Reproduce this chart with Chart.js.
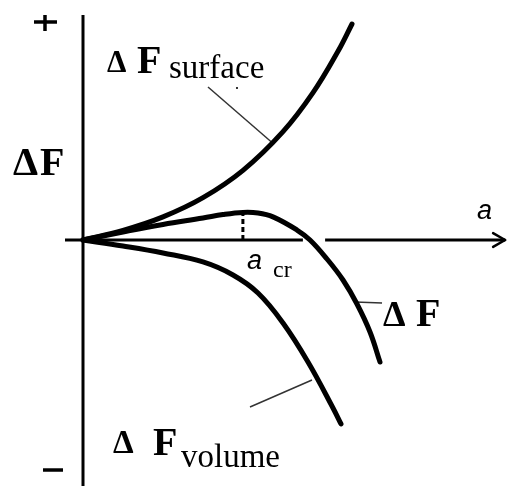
<!DOCTYPE html>
<html>
<head>
<meta charset="utf-8">
<script src="https://cdn.jsdelivr.net/npm/chart.js@4/dist/chart.umd.min.js"></script>
<style>
  body { margin: 0; background: #fff; }
  canvas { display: block; }
</style>
</head>
<body>
<canvas id="chart" width="508" height="486"></canvas>
<script>
// curve samples, a (size) vs ΔF
const surfaceA = [0, 1.333, 2.667, 4.0, 5.333, 6.667, 7.667, 8.5, 8.967];
const surfaceF = [0, 0.32, 0.77, 1.41, 2.32, 3.61, 4.91, 6.29, 7.2];

const totalA = [0, 1.333, 2.667, 4.0, 4.667, 5.333, 5.833, 6.333, 7.133, 7.567, 8.133, 8.667, 9.133, 9.567, 9.9];
const totalF = [0, 0.267, 0.517, 0.733, 0.85, 0.92, 0.9, 0.77, 0.333, 0, -0.633, -1.333, -2.133, -3.067, -4.067];

const volumeA = [0, 1.333, 2.667, 4.0, 5.0, 5.833, 6.667, 7.5, 8.333, 8.6];
const volumeF = [0, -0.2, -0.433, -0.733, -1.167, -1.767, -2.767, -4.067, -5.6, -6.133];

const aCritical = 5.33;
const peakF = 0.93;

const toPoints = (xs, ys) => xs.map((x, i) => ({ x: x, y: ys[i] }));

const curveStyle = {
    showLine: true,
    borderColor: '#000',
    borderWidth: 5,
    pointRadius: 0,
    tension: 0.4,
    borderCapStyle: 'round',
    borderJoinStyle: 'round',
    fill: false,
};

const sketchPlugin = {
    id: 'sketch',
    beforeDatasetsDraw(chart) {
        const ctx = chart.ctx;
        const xs = chart.scales.x, ys = chart.scales.y;
        const X = (v) => xs.getPixelForValue(v);
        const Y = (v) => ys.getPixelForValue(v);
        const line = (a1, f1, a2, f2, w) => {
            ctx.beginPath();
            ctx.moveTo(X(a1), Y(f1));
            ctx.lineTo(X(a2), Y(f2));
            ctx.lineWidth = w;
            ctx.stroke();
        };
        ctx.save();
        ctx.strokeStyle = '#000';
        ctx.lineCap = 'butt';
        // y axis
        line(0, 7.5, 0, -8.3, 3);
        // x axis, broken where ΔF crosses it
        line(-0.6, 0, 7.33, 0, 3);
        line(8.07, 0, 14.07, 0, 3);
        ctx.lineCap = 'round';
        line(13.67, 0.23, 14.07, 0, 2.5);
        line(13.67, -0.23, 14.07, 0, 2.5);
        // + and -
        ctx.lineCap = 'butt';
        line(-1.633, 7.267, -0.867, 7.267, 3.5);
        line(-1.267, 7.5, -1.267, 6.967, 3.5);
        line(-1.333, -7.667, -0.667, -7.667, 3.5);
        // a_cr marker
        ctx.setLineDash([5, 3]);
        line(aCritical, 0, aCritical, peakF - 0.05, 3);
        ctx.setLineDash([]);
        // leader lines
        ctx.strokeStyle = '#333';
        line(4.167, 5.1, 6.3, 3.25, 1.5);
        line(9.067, -2.067, 9.967, -2.1, 1.5);
        line(5.567, -5.567, 7.633, -4.667, 1.5);
        ctx.fillStyle = '#333';
        ctx.fillRect(X(5.133) - 1, Y(5.067) - 1, 2, 2);
        ctx.restore();
    },
    afterDatasetsDraw(chart) {
        const ctx = chart.ctx;
        const xs = chart.scales.x, ys = chart.scales.y;
        const serif = '"Liberation Serif", "DejaVu Serif", serif';
        const sans = '"Liberation Sans", Arial, sans-serif';
        const labels = [
            ['Δ', 'bold 40px ' + serif, -2.333, 2.167],
            ['F', 'bold 40px ' + serif, -1.433, 2.167],
            ['Δ', 'bold 31px ' + serif, 0.8, 5.6],
            ['F', 'bold 40px ' + serif, 1.8, 5.567],
            ['surface', '33px ' + serif, 2.867, 5.4],
            ['Δ', 'bold 36px ' + serif, 10.0, -2.867],
            ['F', 'bold 40px ' + serif, 11.1, -2.867],
            ['Δ', 'bold 33px ' + serif, 1.0, -7.1],
            ['F', 'bold 40px ' + serif, 2.333, -7.167],
            ['volume', '33px ' + serif, 3.267, -7.567],
            ['a', 'italic 27px ' + sans, 13.133, 0.7],
            ['a', 'italic 27px ' + sans, 5.467, -0.967],
            ['cr', '24px ' + serif, 6.333, -1.233],
        ];
        ctx.save();
        ctx.fillStyle = '#000';
        ctx.textBaseline = 'alphabetic';
        ctx.textAlign = 'left';
        labels.forEach(([text, font, a, f]) => {
            ctx.font = font;
            ctx.fillText(text, xs.getPixelForValue(a), ys.getPixelForValue(f));
        });
        ctx.restore();
    },
};

new Chart(document.getElementById('chart'), {
    type: 'scatter',
    data: {
        datasets: [
            Object.assign({ label: 'ΔF surface', data: toPoints(surfaceA, surfaceF) }, curveStyle),
            Object.assign({ label: 'ΔF', data: toPoints(totalA, totalF) }, curveStyle),
            Object.assign({ label: 'ΔF volume', data: toPoints(volumeA, volumeF) }, curveStyle),
        ],
    },
    options: {
        responsive: false,
        devicePixelRatio: 1,
        animation: false,
        layout: { padding: 0 },
        plugins: {
            legend: { display: false },
            tooltip: { enabled: false },
        },
        scales: {
            x: { type: 'linear', display: false, min: -2.7667, max: 14.1667 },
            y: { type: 'linear', display: false, min: -8.2, max: 8 },
        },
    },
    plugins: [sketchPlugin],
});
</script>
</body>
</html>
